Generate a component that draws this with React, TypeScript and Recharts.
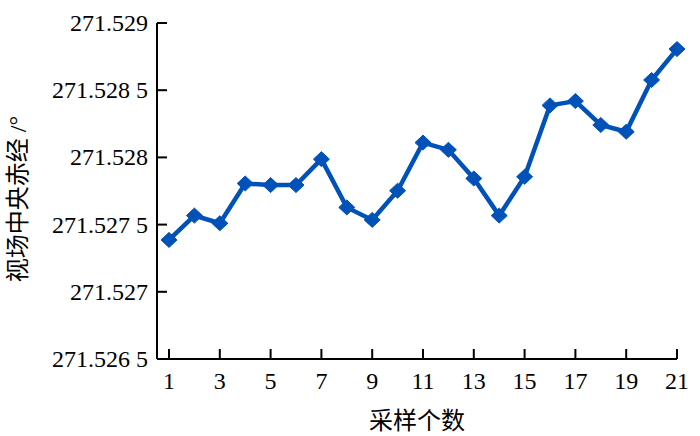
import React from "react"
import { LineChart, Line, XAxis, YAxis } from "recharts"

const samples = [1, 2, 3, 4, 5, 6, 7, 8, 9, 10, 11, 12, 13, 14, 15, 16, 17, 18, 19, 20, 21]
const raValues = [
  271.527386, 271.527567, 271.52751, 271.527806, 271.527794, 271.527794, 271.527987,
  271.527628, 271.527535, 271.527752, 271.52811, 271.528056, 271.527843, 271.527567,
  271.527856, 271.528387, 271.528419, 271.528241, 271.528191, 271.528576, 271.528806,
]
const xTicks = [1, 3, 5, 7, 9, 11, 13, 15, 17, 19, 21]
const yTicks = [271.5265, 271.527, 271.5275, 271.528, 271.5285, 271.529]
const yTickLabels = ["271.526 5", "271.527", "271.527 5", "271.528", "271.528 5", "271.529"]

const data = samples.map((s, i) => ({ n: s, ra: raValues[i] }))

const FONT = "'Liberation Serif', 'Times New Roman', 'Noto Sans CJK SC', serif"
const BLUE = "#0052b8"

const YTick = (props: any) => {
  const { x, y, payload } = props
  const idx = yTicks.findIndex((t) => Math.abs(t - payload.value) < 1e-7)
  return (
    <g>
      <line x1={x + 9} y1={y} x2={x + 19} y2={y} stroke="#000" strokeWidth={2} />
      <text x={x} y={y} textAnchor="end" dominantBaseline="central" fontSize={24} style={{ fontFamily: FONT }} fill="#000">
        {idx >= 0 ? yTickLabels[idx] : payload.value}
      </text>
    </g>
  )
}

const XTick = (props: any) => {
  const { x, y, payload } = props
  return (
    <g>
      <line x1={x} y1={y - 8} x2={x} y2={y - 18} stroke="#000" strokeWidth={2} />
      <text x={x} y={y + 22} textAnchor="middle" fontSize={24} style={{ fontFamily: FONT }} fill="#000">
        {payload.value}
      </text>
    </g>
  )
}

const Diamond = (props: any) => {
  const { cx, cy, index } = props
  if (cx == null || cy == null) return <g key={index} />
  return (
    <path
      key={index}
      d={`M${cx},${cy - 7.5} L${cx + 8},${cy} L${cx},${cy + 7.5} L${cx - 8},${cy} Z`}
      fill={BLUE}
      stroke={BLUE}
      strokeWidth={1}
    />
  )
}

export default function App() {
  return (
    <div style={{ position: "absolute", left: 0, top: 0, width: 700, height: 436, background: "#fff" }}>
      <LineChart width={700} height={436} data={data} margin={{ top: 23, right: 23, bottom: 0, left: 0 }}>
        <XAxis
          dataKey="n"
          type="number"
          domain={[1, 21]}
          ticks={xTicks}
          padding={{ left: 12, right: 0 }}
          height={77}
          tickSize={0}
          tickMargin={8}
          tick={<XTick />}
          axisLine={{ stroke: "#000", strokeWidth: 2 }}
          tickLine={false}
          interval={0}
          label={{
            content: (p: any) => {
              const vb = p.viewBox
              return (
                <text
                  x={vb.x + vb.width / 2}
                  y={vb.y + 62}
                  textAnchor="middle"
                  dominantBaseline="central"
                  fontSize={24}
                  style={{ fontFamily: FONT }}
                  fill="#000"
                >
                  采样个数
                </text>
              )
            },
          }}
        />
        <YAxis
          type="number"
          domain={[271.5265, 271.529]}
          ticks={yTicks}
          width={157}
          tickSize={0}
          tickMargin={9}
          tick={<YTick />}
          axisLine={{ stroke: "#000", strokeWidth: 2 }}
          tickLine={false}
          interval={0}
          allowDataOverflow
          label={{
            content: (p: any) => {
              const vb = p.viewBox
              const cx = vb.x + 18
              const cy = vb.y + vb.height / 2 + 8
              return (
                <text
                  x={cx}
                  y={cy}
                  transform={`rotate(-90 ${cx} ${cy})`}
                  textAnchor="middle"
                  dominantBaseline="central"
                  fontSize={24}
                  style={{ fontFamily: FONT }}
                  fill="#000"
                >
                  视场中央赤经 /°
                </text>
              )
            },
          }}
        />
        <Line
          type="linear"
          dataKey="ra"
          stroke={BLUE}
          strokeWidth={4.5}
          dot={<Diamond />}
          activeDot={false}
          isAnimationActive={false}
        />
      </LineChart>
    </div>
  )
}
